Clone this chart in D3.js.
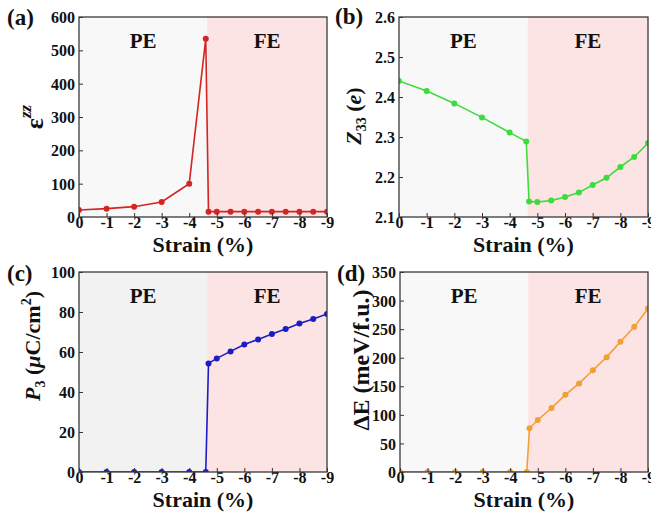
<!DOCTYPE html>
<html>
<head>
    <meta charset="utf-8" />
    <title></title>
    <style>
        body { margin: 0; background: #fff; }
        text { font-family: "Liberation Serif", "Times New Roman", serif; font-weight: bold; fill: #111; }
        .tick line { stroke: #333; stroke-width: 1px; }
        .tick text { font-size: 16px; }
    </style>
</head>
<body>
    <script src="https://d3js.org/d3.v7.min.js"></script>
    <script>
      // strain values shared by all four panels
      var strain = [0, -1, -2, -3, -4, -4.6, -4.7, -5, -5.5, -6, -6.5, -7, -7.5, -8, -8.5, -9];
      var xTicks = [0, -1, -2, -3, -4, -5, -6, -7, -8, -9];
      var boundary = -4.65;

      var epsZZ = [21, 25, 31, 45, 100, 535, 16, 16, 16, 16, 16, 16, 16, 16, 16, 16];
      var z33 = [2.44, 2.415, 2.384, 2.349, 2.311, 2.289, 2.139, 2.1375, 2.141, 2.15, 2.161, 2.18, 2.198, 2.225, 2.25, 2.285];
      var p3 = [0, 0, 0, 0, 0, 0, 54.3, 56.8, 60.3, 63.7, 66.3, 69, 71.5, 74.2, 76.5, 79];
      var dE = [0, 0, 0, 0, 0, 0, 76.5, 91, 112, 135, 155, 178, 201, 228, 254, 286];

      var yTicksA = [0, 100, 200, 300, 400, 500, 600];
      var yTicksB = [2.1, 2.2, 2.3, 2.4, 2.5, 2.6];
      var yTicksC = [0, 20, 40, 60, 80, 100];
      var yTicksD = [0, 50, 100, 150, 200, 250, 300, 350];

      var width = 651, height = 517;
      var svg = d3.select("body").append("svg")
          .attr("width", width)
          .attr("height", height);

      var panels = [
        { id: "a", label: "(a)", values: epsZZ, ticks: yTicksA, fmt: d3.format("d"), color: "#d42424",
          left: 79, top: 17, w: 248, h: 200, pe: "#f8f8f8", labelX: 7, labelY: 25, titleX: 43, titleY: 117 },
        { id: "b", label: "(b)", values: z33, ticks: yTicksB, fmt: d3.format(".1f"), color: "#3ddc3d",
          left: 399, top: 17, w: 249, h: 200, pe: "#f8f8f8", labelX: 335, labelY: 24, titleX: 361, titleY: 116 },
        { id: "c", label: "(c)", values: p3, ticks: yTicksC, fmt: d3.format("d"), color: "#1c1cc4",
          left: 79, top: 272, w: 248, h: 200, pe: "#f2f2f2", labelX: 7, labelY: 281, titleX: 40, titleY: 346 },
        { id: "d", label: "(d)", values: dE, ticks: yTicksD, fmt: d3.format("d"), color: "#f0a035",
          left: 400, top: 272, w: 248, h: 200, pe: "#f8f8f8", labelX: 337, labelY: 281, titleX: 369, titleY: 360 }
      ];

      panels.forEach(function(p) {
        var x = d3.scaleLinear().domain([0, -9]).range([0, p.w]);
        var y = d3.scaleLinear().domain([p.ticks[0], p.ticks[p.ticks.length - 1]]).range([p.h, 0]);

        var g = svg.append("g").attr("transform", "translate(" + p.left + "," + p.top + ")");

        // phase backgrounds
        g.append("rect").attr("x", 0).attr("y", 0)
          .attr("width", x(boundary)).attr("height", p.h).attr("fill", p.pe);
        g.append("rect").attr("x", x(boundary)).attr("y", 0)
          .attr("width", p.w - x(boundary)).attr("height", p.h).attr("fill", "#fde4e4");

        g.append("text").attr("x", x(boundary) / 2).attr("y", 31)
          .attr("text-anchor", "middle").style("font-size", "21px").text("PE");
        g.append("text").attr("x", (x(boundary) + p.w) / 2).attr("y", 31)
          .attr("text-anchor", "middle").style("font-size", "21px").text("FE");

        g.append("clipPath").attr("id", "clip-" + p.id)
          .append("rect").attr("width", p.w).attr("height", p.h);

        var pts = strain.map(function(s, i) { return [s, p.values[i]]; });
        var data = g.append("g").attr("clip-path", "url(#clip-" + p.id + ")");

        data.append("path")
          .datum(pts)
          .attr("fill", "none")
          .attr("stroke", p.color)
          .attr("stroke-width", 1.6)
          .attr("d", d3.line().x(function(d) { return x(d[0]); }).y(function(d) { return y(d[1]); }));

        data.selectAll("circle")
          .data(pts)
          .enter().append("circle")
          .attr("cx", function(d) { return x(d[0]); })
          .attr("cy", function(d) { return y(d[1]); })
          .attr("r", 3)
          .attr("fill", p.color);

        var xAxis = g.append("g").attr("transform", "translate(0," + p.h + ")")
          .call(d3.axisBottom(x).tickValues(xTicks).tickSizeInner(-4).tickSizeOuter(0).tickPadding(0)
            .tickFormat(function(d) { return String(d); }));
        xAxis.select(".domain").remove();

        var yAxis = g.append("g")
          .call(d3.axisLeft(y).tickValues(p.ticks).tickSizeInner(-4).tickSizeOuter(0).tickPadding(4)
            .tickFormat(p.fmt));
        yAxis.select(".domain").remove();
        yAxis.selectAll("text").attr("dy", "0.35em");

        g.append("rect").attr("width", p.w).attr("height", p.h)
          .attr("fill", "none").attr("stroke", "#3a3a3a").attr("stroke-width", 1.3);

        g.append("text").attr("x", p.w / 2).attr("y", p.h + 35)
          .attr("text-anchor", "middle").style("font-size", "22px").text("Strain (%)");

        svg.append("text").attr("x", p.labelX).attr("y", p.labelY)
          .style("font-size", "23px").text(p.label);
      });

      // y axis titles
      function yTitle(p, size) {
        return svg.append("text")
          .attr("transform", "translate(" + p.titleX + "," + p.titleY + ") rotate(-90)")
          .attr("text-anchor", "middle")
          .style("font-size", size + "px");
      }

      var ta = yTitle(panels[0], 26);
      ta.append("tspan").text("ε");
      ta.append("tspan").attr("dy", -12).style("font-size", "17px").style("font-style", "italic").text("zz");

      var tb = yTitle(panels[1], 22);
      tb.append("tspan").style("font-style", "italic").text("Z");
      tb.append("tspan").attr("dy", 5).style("font-size", "14px").text("33");
      tb.append("tspan").attr("dy", -5).text(" (");
      tb.append("tspan").style("font-style", "italic").text("e");
      tb.append("tspan").text(")");

      var tc = yTitle(panels[2], 22);
      tc.append("tspan").style("font-style", "italic").text("P");
      tc.append("tspan").attr("dy", 5).style("font-size", "14px").text("3");
      tc.append("tspan").attr("dy", -5).text(" (");
      tc.append("tspan").style("font-style", "italic").text("μ");
      tc.append("tspan").text("C/cm");
      tc.append("tspan").attr("dy", -9).style("font-size", "14px").text("2");
      tc.append("tspan").attr("dy", 9).text(")");

      var td = yTitle(panels[3], 24);
      td.text("ΔE (meV/f.u.)");
    </script>
</body>
</html>
